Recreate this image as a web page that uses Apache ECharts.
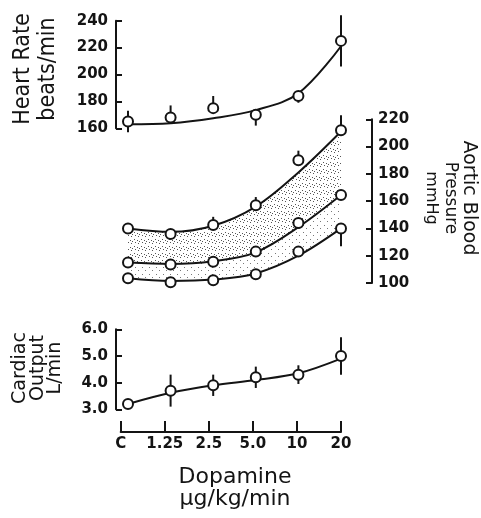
<!DOCTYPE html>
<html>
<head>
<meta charset="utf-8">
<script src="https://cdn.jsdelivr.net/npm/echarts@6/dist/echarts.min.js"></script>
<style>html,body{margin:0;padding:0;background:#fff}#c{width:481px;height:518px}</style>
</head>
<body>
<div id="c"></div>
<script>
// ---- data ----
const categories = ['C', '1.25', '2.5', '5.0', '10', '20'];

const hrMean     = [165, 168, 175, 170, 184, 225];
const hrErrUp    = [8, 9, 9, 0, 0, 19];
const hrErrDown  = [8, 0, 0, 8, 5, 19];
const hrFit      = [163, 163.8, 167.5, 173.5, 186, 221];

const sysMean    = [140, 136, 142.5, 157, 190, 212];
const sysErrUp   = [3, 0, 6, 6, 7, 11];
const sysErrDown = [0, 0, 0, 0, 0, 0];
const sysFit     = [140, 137.5, 142, 156, 181, 211];

const meanBP     = [115, 113.5, 115.5, 123, 144, 164.5];
const meanFit    = [115, 114, 116, 122.5, 141, 164.5];

const diaBP      = [103.5, 100.5, 102, 106.5, 123, 140];
const diaErrUp   = [0, 0, 0, 0, 0, 0];
const diaErrDown = [0, 0, 0, 0, 0, 13];
const diaFit     = [103.5, 101.5, 102.5, 107, 120, 140];

const coMean     = [3.2, 3.7, 3.9, 4.2, 4.3, 5.0];
const coErrUp    = [0.1, 0.6, 0.4, 0.4, 0.35, 0.7];
const coErrDown  = [0.1, 0.6, 0.4, 0.4, 0.35, 0.7];
const coFit      = [3.2, 3.62, 3.9, 4.1, 4.35, 4.9];

const hrTicks = [160, 180, 200, 220, 240];
const bpTicks = [100, 120, 140, 160, 180, 200, 220];
const coTicks = [3.0, 4.0, 5.0, 6.0];

// ---- chart ----
const INK = '#141414';
const chart = echarts.init(document.getElementById('c'), null, {renderer: 'canvas'});

// stipple texture tiles (fixed dot layout, opaque white background)
function stipple(dots, dotColor) {
  const c = document.createElement('canvas');
  c.width = 7; c.height = 7;
  const g = c.getContext('2d');
  g.fillStyle = '#fff'; g.fillRect(0, 0, 7, 7);
  g.fillStyle = dotColor;
  dots.forEach(d => g.fillRect(d[0], d[1], 1, 1));
  return {image: c, repeat: 'repeat'};
}
const denseDots  = stipple([[1, 1], [4, 2], [2, 4], [5, 5], [6, 3]], '#555');
const sparseDots = stipple([[2, 1], [5, 4]], '#777');

function pts(vals) { return vals.map((v, i) => [i, v]); }

function errSeries(ai, vals, up, down) {
  return {
    type: 'custom', xAxisIndex: ai, yAxisIndex: ai, z: 5, silent: true,
    data: vals.map((v, i) => [i, v - down[i], v + up[i]]),
    encode: {x: 0, y: [1, 2]},
    renderItem: function (params, api) {
      const x = api.value(0);
      const a = api.coord([x, api.value(1)]);
      const b = api.coord([x, api.value(2)]);
      return {type: 'line', shape: {x1: a[0], y1: a[1], x2: b[0], y2: b[1]},
              style: {stroke: INK, lineWidth: 2}};
    }
  };
}
function fitSeries(ai, vals, z, fill) {
  const s = {type: 'line', xAxisIndex: ai, yAxisIndex: ai, data: pts(vals), smooth: 0.35,
          showSymbol: false, silent: true, z: z || 3, lineStyle: {color: INK, width: 2}};
  if (fill) s.areaStyle = {color: fill, opacity: 1, origin: 'start'};
  return s;
}
function ptSeries(ai, vals) {
  return {type: 'scatter', xAxisIndex: ai, yAxisIndex: ai, data: pts(vals), symbol: 'circle',
          symbolSize: 10, z: 6, silent: true,
          itemStyle: {color: '#fff', borderColor: INK, borderWidth: 2, opacity: 1}};
}
function xHidden(gi) {
  return {type: 'value', gridIndex: gi, min: 0, max: 5, show: false};
}
const labelFont = {color: INK, fontFamily: 'DejaVu Sans', fontWeight: 'bold', fontSize: 15};
function yAx(gi, min, max, interval, pos, offset, ticks, dec) {
  return {
    type: 'value', gridIndex: gi, min: min, max: max, interval: interval, position: pos, offset: offset,
    splitLine: {show: false},
    axisLine: {show: true, onZero: false, lineStyle: {color: INK, width: 2}},
    axisTick: {show: true, inside: true, length: 6, lineStyle: {color: INK, width: 2}},
    axisLabel: Object.assign({margin: pos === 'left' ? 8 : 6,
      formatter: v => ticks.indexOf(v) >= 0 ? v.toFixed(dec) : ''}, labelFont)
  };
}

const option = {
  backgroundColor: '#fff',
  animation: false,
  grid: [
    {left: 128, width: 213, top: 20.7, height: 107.6},
    {left: 128, width: 213, top: 119.3, height: 163.7},
    {left: 128, width: 213, top: 329.3, height: 80},
    {left: 120.7, width: 220.3, top: 420, height: 12}
  ],
  xAxis: [
    xHidden(0), xHidden(1), xHidden(2),
    {type: 'category', gridIndex: 3, data: categories, boundaryGap: false, position: 'bottom',
     axisLine: {show: true, lineStyle: {color: INK, width: 2}},
     axisTick: {show: true, inside: true, length: 11, alignWithLabel: true, lineStyle: {color: INK, width: 2}},
     axisLabel: Object.assign({margin: 5, interval: 0}, labelFont)}
  ],
  yAxis: [
    yAx(0, 160, 240, 20, 'left', 12, hrTicks, 0),
    yAx(1, 100, 220, 20, 'right', 31, bpTicks, 0),
    yAx(2, 3, 6, 1, 'left', 12, coTicks, 1),
    {type: 'value', gridIndex: 3, show: false, min: 0, max: 1}
  ],
  series: [
    // heart rate
    errSeries(0, hrMean, hrErrUp, hrErrDown), fitSeries(0, hrFit), ptSeries(0, hrMean),
    // aortic pressure: stippled band built by layered fills under the fitted curves
    fitSeries(1, sysFit, 2, denseDots),
    fitSeries(1, meanFit, 3, sparseDots),
    fitSeries(1, diaFit, 4, '#ffffff'),
    errSeries(1, sysMean, sysErrUp, sysErrDown), ptSeries(1, sysMean),
    ptSeries(1, meanBP),
    errSeries(1, diaBP, diaErrUp, diaErrDown), ptSeries(1, diaBP),
    // cardiac output
    errSeries(2, coMean, coErrUp, coErrDown), fitSeries(2, coFit), ptSeries(2, coMean)
  ],
  graphic: [
    {type: 'text', x: 23, y: 69, rotation: Math.PI / 2,
     style: {text: 'Heart Rate', fill: INK, font: '23px "DejaVu Sans Condensed", "DejaVu Sans"', align: 'center', verticalAlign: 'middle'}},
    {type: 'text', x: 48, y: 69, rotation: Math.PI / 2,
     style: {text: 'beats/min', fill: INK, font: '23px "DejaVu Sans Condensed", "DejaVu Sans"', align: 'center', verticalAlign: 'middle'}},
    {type: 'text', x: 469, y: 198, rotation: -Math.PI / 2,
     style: {text: 'Aortic Blood', fill: INK, font: '19px "DejaVu Sans"', align: 'center', verticalAlign: 'middle'}},
    {type: 'text', x: 450, y: 198, rotation: -Math.PI / 2,
     style: {text: 'Pressure', fill: INK, font: '17px "DejaVu Sans"', align: 'center', verticalAlign: 'middle'}},
    {type: 'text', x: 431, y: 198, rotation: -Math.PI / 2,
     style: {text: 'mmHg', fill: INK, font: '16px "DejaVu Sans"', align: 'center', verticalAlign: 'middle'}},
    {type: 'text', x: 20, y: 368, rotation: Math.PI / 2,
     style: {text: 'Cardiac', fill: INK, font: '19px "DejaVu Sans"', align: 'center', verticalAlign: 'middle'}},
    {type: 'text', x: 38, y: 368, rotation: Math.PI / 2,
     style: {text: 'Output', fill: INK, font: '19px "DejaVu Sans"', align: 'center', verticalAlign: 'middle'}},
    {type: 'text', x: 55, y: 368, rotation: Math.PI / 2,
     style: {text: 'L/min', fill: INK, font: '19px "DejaVu Sans"', align: 'center', verticalAlign: 'middle'}},
    {type: 'text', x: 235, y: 477,
     style: {text: 'Dopamine', fill: INK, font: '22px "DejaVu Sans"', align: 'center', verticalAlign: 'middle'}},
    {type: 'text', x: 235, y: 499,
     style: {text: 'μg/kg/min', fill: INK, font: '22px "DejaVu Sans"', align: 'center', verticalAlign: 'middle'}}
  ]
};
chart.setOption(option);
</script>
</body>
</html>
